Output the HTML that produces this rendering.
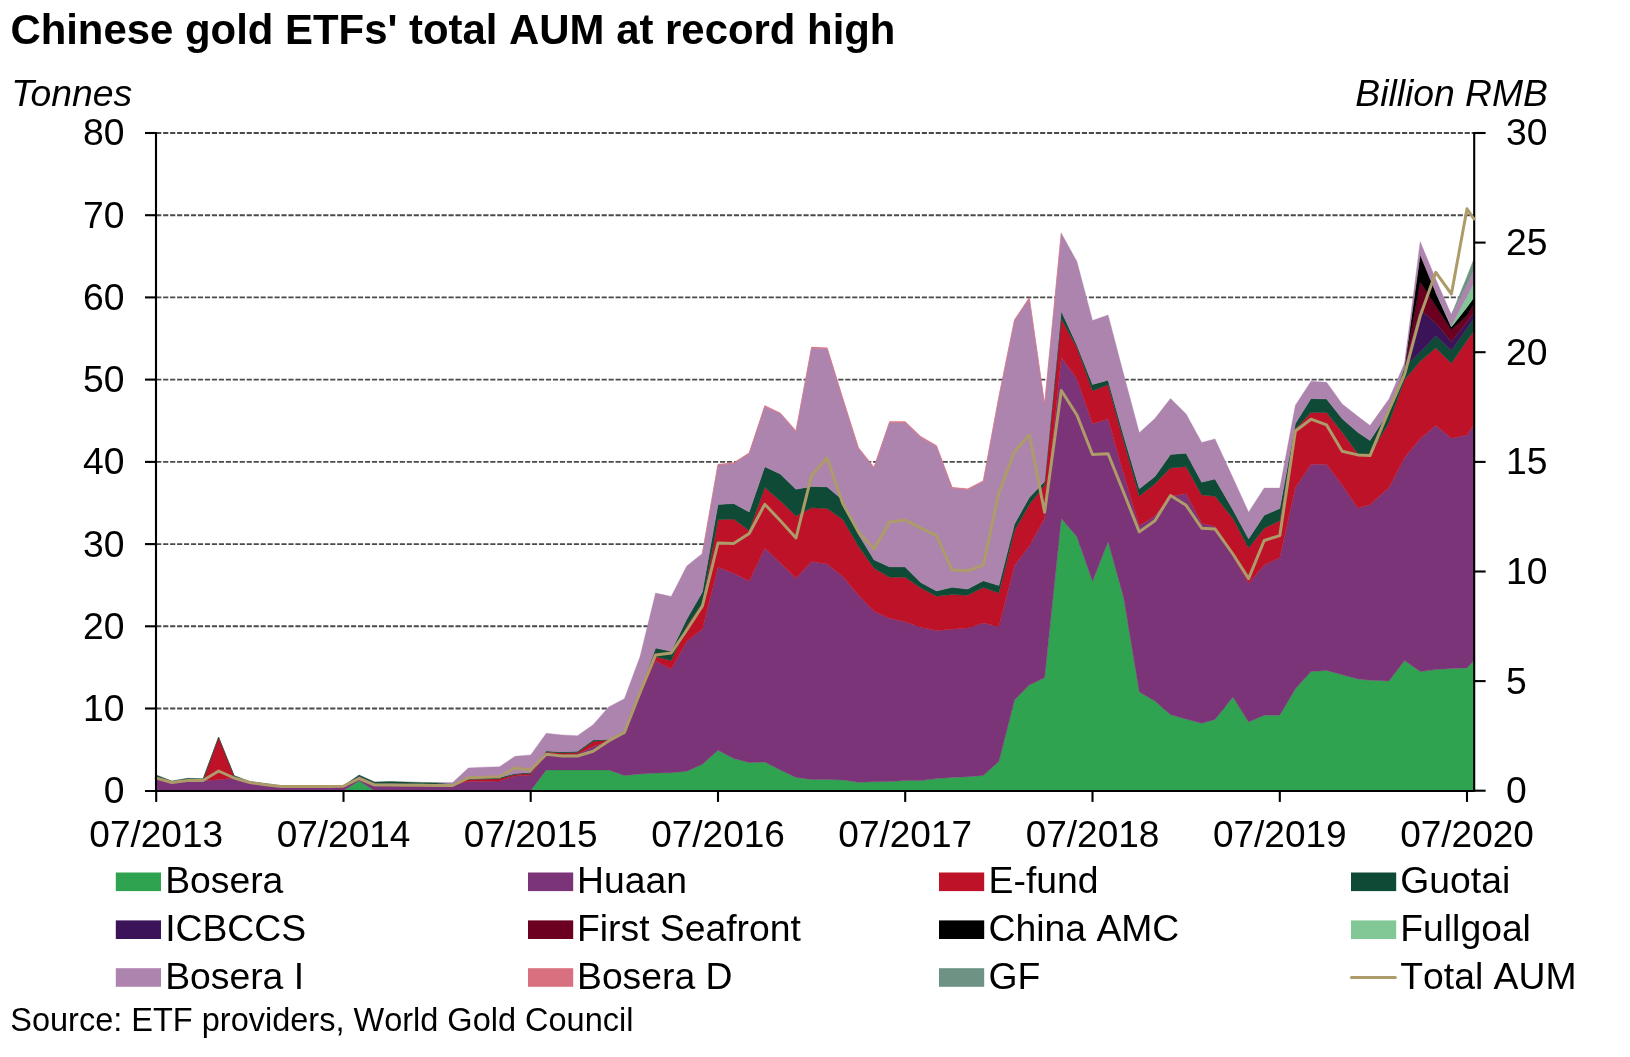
<!DOCTYPE html>
<html lang="en">
<head>
<meta charset="utf-8">
<title>Chinese gold ETFs' total AUM at record high</title>
<style>
html,body{margin:0;padding:0;background:#fff;}
body{width:1630px;height:1057px;overflow:hidden;font-family:"Liberation Sans",sans-serif;}
svg{display:block;font-kerning:none;will-change:transform;}
</style>
</head>
<body>
<svg width="1630" height="1057" viewBox="0 0 1630 1057" font-family="'Liberation Sans', sans-serif" fill="#000">
<rect width="1630" height="1057" fill="#fff"/>
<line x1="156.2" x2="1474.2" y1="708.5" y2="708.5" stroke="#4a4a4a" stroke-width="1.9" stroke-dasharray="5.15 1.81"/>
<line x1="156.2" x2="1474.2" y1="626.3" y2="626.3" stroke="#4a4a4a" stroke-width="1.9" stroke-dasharray="5.15 1.81"/>
<line x1="156.2" x2="1474.2" y1="544.1" y2="544.1" stroke="#4a4a4a" stroke-width="1.9" stroke-dasharray="5.15 1.81"/>
<line x1="156.2" x2="1474.2" y1="461.9" y2="461.9" stroke="#4a4a4a" stroke-width="1.9" stroke-dasharray="5.15 1.81"/>
<line x1="156.2" x2="1474.2" y1="379.6" y2="379.6" stroke="#4a4a4a" stroke-width="1.9" stroke-dasharray="5.15 1.81"/>
<line x1="156.2" x2="1474.2" y1="297.4" y2="297.4" stroke="#4a4a4a" stroke-width="1.9" stroke-dasharray="5.15 1.81"/>
<line x1="156.2" x2="1474.2" y1="215.2" y2="215.2" stroke="#4a4a4a" stroke-width="1.9" stroke-dasharray="5.15 1.81"/>
<line x1="156.2" x2="1474.2" y1="133" y2="133" stroke="#4a4a4a" stroke-width="1.9" stroke-dasharray="5.15 1.81"/>
<polygon points="156.2,790.7 171.8,790.7 187.4,790.7 203,790.7 218.6,790.7 234.2,790.7 249.8,790.7 265.4,790.7 281,790.7 296.6,790.7 312.2,790.7 327.9,790.7 343.5,790.7 359.1,780.8 374.7,790.7 390.3,790.7 405.9,790.7 421.5,790.7 437.1,790.7 452.7,790.7 468.3,790.7 483.9,790.7 499.5,790.7 515.1,790.7 530.7,790.7 546.3,769.9 561.9,769.9 577.5,769.9 593.1,769.9 608.7,769.9 624.4,775.5 640,774 655.6,773.1 671.2,772.7 686.8,771.2 702.4,764.2 718,750.3 733.6,758.4 749.2,762.6 764.8,762.1 780.4,770 796,777.4 811.6,779.4 827.2,779.4 842.8,779.9 858.4,782.3 874,781.8 889.6,781.6 905.2,780.6 920.8,780.6 936.5,778.6 952.1,777.4 967.7,776.7 983.3,775.4 998.9,761.4 1014.5,699.9 1029.3,685.1 1044.6,677.8 1061.3,518.4 1076.9,536.8 1092.5,581.3 1108.1,541.4 1123.7,597.8 1139.3,692 1154.9,701.1 1170.5,714.7 1186.1,719.1 1201.7,723.3 1215,719.6 1232.9,697 1248.6,722 1264.2,715.2 1279.8,715.2 1295.4,688.8 1311,671.6 1326.6,670.4 1342.2,674.8 1357.8,679 1370,680.2 1389,681 1404.6,660.5 1420.2,671.6 1435.8,669.6 1451.4,668.4 1467,667.9 1474,660.5 1474,791.2 1467,791.2 1451.4,791.2 1435.8,791.2 1420.2,791.2 1404.6,791.2 1389,791.2 1370,791.2 1357.8,791.2 1342.2,791.2 1326.6,791.2 1311,791.2 1295.4,791.2 1279.8,791.2 1264.2,791.2 1248.6,791.2 1232.9,791.2 1215,791.2 1201.7,791.2 1186.1,791.2 1170.5,791.2 1154.9,791.2 1139.3,791.2 1123.7,791.2 1108.1,791.2 1092.5,791.2 1076.9,791.2 1061.3,791.2 1044.6,791.2 1029.3,791.2 1014.5,791.2 998.9,791.2 983.3,791.2 967.7,791.2 952.1,791.2 936.5,791.2 920.8,791.2 905.2,791.2 889.6,791.2 874,791.2 858.4,791.2 842.8,791.2 827.2,791.2 811.6,791.2 796,791.2 780.4,791.2 764.8,791.2 749.2,791.2 733.6,791.2 718,791.2 702.4,791.2 686.8,791.2 671.2,791.2 655.6,791.2 640,791.2 624.4,791.2 608.7,791.2 593.1,791.2 577.5,791.2 561.9,791.2 546.3,791.2 530.7,791.2 515.1,791.2 499.5,791.2 483.9,791.2 468.3,791.2 452.7,791.2 437.1,791.2 421.5,791.2 405.9,791.2 390.3,791.2 374.7,791.2 359.1,791.2 343.5,791.2 327.9,791.2 312.2,791.2 296.6,791.2 281,791.2 265.4,791.2 249.8,791.2 234.2,791.2 218.6,791.2 203,791.2 187.4,791.2 171.8,791.2 156.2,791.2" fill="#2fa350" stroke="#2fa350" stroke-width="0.4" stroke-linejoin="round"/>
<polygon points="156.2,777 171.8,782.5 187.4,780 203,780.5 218.6,779.8 234.2,778 249.8,783 265.4,784.5 281,786.2 296.6,786.2 312.2,786.2 327.9,786.2 343.5,786.2 359.1,776 374.7,783.5 390.3,783.5 405.9,783.5 421.5,783.8 437.1,784.2 452.7,785 468.3,781.4 483.9,781.2 499.5,780.9 515.1,775.9 530.7,775 546.3,753.6 561.9,754.7 577.5,754 593.1,746.6 608.7,740.9 624.4,732.4 640,694.6 655.6,660.9 671.2,669 686.8,641.5 702.4,629 718,567.3 733.6,573.3 749.2,581.1 764.8,548.2 780.4,563 796,578.3 811.6,561.5 827.2,563.9 842.8,576.5 858.4,595 874,611.3 889.6,618.2 905.2,621.7 920.8,627.3 936.5,630.5 952.1,629.3 967.7,628.1 983.3,622.9 998.9,626.6 1014.5,565.4 1029.3,545.8 1044.6,518.4 1061.3,357.3 1076.9,378.8 1092.5,423.7 1108.1,419 1123.7,474.1 1139.3,525.7 1154.9,515.9 1170.5,496.2 1186.1,493.8 1201.7,523.3 1215,526.5 1232.9,556 1248.6,583.3 1264.2,565.1 1279.8,557.5 1295.4,487.6 1311,464.2 1326.6,464.2 1342.2,485.1 1357.8,508 1370,504.8 1389,487.6 1404.6,457.5 1420.2,438.8 1435.8,425.4 1451.4,438.2 1467,435 1474,424.6 1474,660.5 1467,667.9 1451.4,668.4 1435.8,669.6 1420.2,671.6 1404.6,660.5 1389,681 1370,680.2 1357.8,679 1342.2,674.8 1326.6,670.4 1311,671.6 1295.4,688.8 1279.8,715.2 1264.2,715.2 1248.6,722 1232.9,697 1215,719.6 1201.7,723.3 1186.1,719.1 1170.5,714.7 1154.9,701.1 1139.3,692 1123.7,597.8 1108.1,541.4 1092.5,581.3 1076.9,536.8 1061.3,518.4 1044.6,677.8 1029.3,685.1 1014.5,699.9 998.9,761.4 983.3,775.4 967.7,776.7 952.1,777.4 936.5,778.6 920.8,780.6 905.2,780.6 889.6,781.6 874,781.8 858.4,782.3 842.8,779.9 827.2,779.4 811.6,779.4 796,777.4 780.4,770 764.8,762.1 749.2,762.6 733.6,758.4 718,750.3 702.4,764.2 686.8,771.2 671.2,772.7 655.6,773.1 640,774 624.4,775.5 608.7,769.9 593.1,769.9 577.5,769.9 561.9,769.9 546.3,769.9 530.7,790.7 515.1,790.7 499.5,790.7 483.9,790.7 468.3,790.7 452.7,790.7 437.1,790.7 421.5,790.7 405.9,790.7 390.3,790.7 374.7,790.7 359.1,780.8 343.5,790.7 327.9,790.7 312.2,790.7 296.6,790.7 281,790.7 265.4,790.7 249.8,790.7 234.2,790.7 218.6,790.7 203,790.7 187.4,790.7 171.8,790.7 156.2,790.7" fill="#7b3477" stroke="#7b3477" stroke-width="0.4" stroke-linejoin="round"/>
<polygon points="203,780.5 218.6,737.5 234.2,776.5 249.8,783 249.8,783 234.2,778 218.6,779.8 203,780.5" fill="#bd1228" stroke="#bd1228" stroke-width="0.4" stroke-linejoin="round"/>
<polygon points="452.7,785 468.3,779.4 483.9,779.2 499.5,778.8 515.1,774.5 530.7,773.5 546.3,751.9 561.9,752.9 577.5,752.5 593.1,741.5 608.7,740 624.4,731.5 640,692.5 655.6,656.7 671.2,660.5 686.8,626 702.4,603 718,519.8 733.6,519.1 749.2,530.6 764.8,487.6 780.4,501.1 796,515.9 811.6,507.8 827.2,508.5 842.8,519.6 858.4,546.2 874,568.3 889.6,577.3 905.2,577.3 920.8,588 936.5,596.2 952.1,594.6 967.7,595.2 983.3,587.6 998.9,593.1 1014.5,530.7 1029.3,504.8 1044.6,485.1 1061.3,318.8 1076.9,347.6 1092.5,390.8 1108.1,384.8 1123.7,441.5 1139.3,496.2 1154.9,483.9 1170.5,467.9 1186.1,466.7 1201.7,495 1215,496.2 1232.9,518.4 1248.6,547.9 1264.2,528.2 1279.8,520.8 1295.4,429.1 1311,412.6 1326.6,412.6 1342.2,432.3 1357.8,453.7 1370,454.4 1389,422.4 1404.6,379.7 1420.2,361.3 1435.8,347.9 1451.4,363.3 1467,340.5 1474,331 1474,424.6 1467,435 1451.4,438.2 1435.8,425.4 1420.2,438.8 1404.6,457.5 1389,487.6 1370,504.8 1357.8,508 1342.2,485.1 1326.6,464.2 1311,464.2 1295.4,487.6 1279.8,557.5 1264.2,565.1 1248.6,583.3 1232.9,556 1215,526.5 1201.7,523.3 1186.1,493.8 1170.5,496.2 1154.9,515.9 1139.3,525.7 1123.7,474.1 1108.1,419 1092.5,423.7 1076.9,378.8 1061.3,357.3 1044.6,518.4 1029.3,545.8 1014.5,565.4 998.9,626.6 983.3,622.9 967.7,628.1 952.1,629.3 936.5,630.5 920.8,627.3 905.2,621.7 889.6,618.2 874,611.3 858.4,595 842.8,576.5 827.2,563.9 811.6,561.5 796,578.3 780.4,563 764.8,548.2 749.2,581.1 733.6,573.3 718,567.3 702.4,629 686.8,641.5 671.2,669 655.6,660.9 640,694.6 624.4,732.4 608.7,740.9 593.1,746.6 577.5,754 561.9,754.7 546.3,753.6 530.7,775 515.1,775.9 499.5,780.9 483.9,781.2 468.3,781.4 452.7,785" fill="#bd1228" stroke="#bd1228" stroke-width="0.4" stroke-linejoin="round"/>
<polygon points="156.2,775 171.8,781 187.4,778.3 203,778.7 218.6,737 234.2,775.6 249.8,781.5 265.4,783.5 281,785.7 296.6,785.7 312.2,785.7 327.9,785.7 343.5,785.7 359.1,775 374.7,782 390.3,781.5 405.9,782 421.5,782.4 437.1,782.8 452.7,783.8 468.3,778.2 483.9,778 499.5,777.4 515.1,773.6 530.7,772.5 546.3,750.9 561.9,751.9 577.5,751.3 593.1,740 608.7,739.4 624.4,730.5 640,690.8 655.6,648.1 671.2,651.3 686.8,619 702.4,592 718,504.6 733.6,503.5 749.2,512 764.8,466.7 780.4,474.1 796,489.3 811.6,486.4 827.2,486.9 842.8,499.9 858.4,534.3 874,559.8 889.6,566.9 905.2,566.9 920.8,582.6 936.5,590.9 952.1,587.3 967.7,589.1 983.3,580.8 998.9,585.5 1014.5,524 1029.3,497.4 1044.6,481.5 1061.3,311.2 1076.9,345.1 1092.5,384.4 1108.1,380.2 1123.7,436 1139.3,488.8 1154.9,476.5 1170.5,454.4 1186.1,453.2 1201.7,482.2 1215,479 1232.9,509.7 1248.6,538.8 1264.2,515.2 1279.8,508.5 1295.4,423.6 1311,398.5 1326.6,399 1342.2,418.7 1357.8,432.3 1370,440.4 1389,411.3 1404.6,367 1420.2,352 1435.8,335.8 1451.4,350.5 1467,328.5 1474,318.5 1474,331 1467,340.5 1451.4,363.3 1435.8,347.9 1420.2,361.3 1404.6,379.7 1389,422.4 1370,454.4 1357.8,453.7 1342.2,432.3 1326.6,412.6 1311,412.6 1295.4,429.1 1279.8,520.8 1264.2,528.2 1248.6,547.9 1232.9,518.4 1215,496.2 1201.7,495 1186.1,466.7 1170.5,467.9 1154.9,483.9 1139.3,496.2 1123.7,441.5 1108.1,384.8 1092.5,390.8 1076.9,347.6 1061.3,318.8 1044.6,485.1 1029.3,504.8 1014.5,530.7 998.9,593.1 983.3,587.6 967.7,595.2 952.1,594.6 936.5,596.2 920.8,588 905.2,577.3 889.6,577.3 874,568.3 858.4,546.2 842.8,519.6 827.2,508.5 811.6,507.8 796,515.9 780.4,501.1 764.8,487.6 749.2,530.6 733.6,519.1 718,519.8 702.4,603 686.8,626 671.2,660.5 655.6,656.7 640,692.5 624.4,731.5 608.7,740 593.1,741.5 577.5,752.5 561.9,752.9 546.3,751.9 530.7,773.5 515.1,774.5 499.5,778.8 483.9,779.2 468.3,779.4 452.7,785 437.1,784.2 421.5,783.8 405.9,783.5 390.3,783.5 374.7,783.5 359.1,776 343.5,786.2 327.9,786.2 312.2,786.2 296.6,786.2 281,786.2 265.4,784.5 249.8,783 234.2,776.5 218.6,737.5 203,780.5 187.4,780 171.8,782.5 156.2,777" fill="#0f4a36" stroke="#0f4a36" stroke-width="0.4" stroke-linejoin="round"/>
<polygon points="1404.6,367 1420.2,309.5 1435.8,323 1451.4,341.4 1467,321.9 1474,312 1474,318.5 1467,328.5 1451.4,350.5 1435.8,335.8 1420.2,352 1404.6,367" fill="#3b1358" stroke="#3b1358" stroke-width="0.4" stroke-linejoin="round"/>
<polygon points="1404.6,367 1420.2,281.7 1435.8,306 1451.4,329.8 1467,315.5 1474,303.4 1474,312 1467,321.9 1451.4,341.4 1435.8,323 1420.2,309.5 1404.6,367" fill="#6b0020" stroke="#6b0020" stroke-width="0.4" stroke-linejoin="round"/>
<polygon points="1404.6,367 1420.2,254.8 1435.8,292.4 1451.4,327 1467,307.2 1474,297.5 1474,303.4 1467,315.5 1451.4,329.8 1435.8,306 1420.2,281.7 1404.6,367" fill="#000000" stroke="#000000" stroke-width="0.4" stroke-linejoin="round"/>
<polygon points="1435.8,292.4 1451.4,326 1467,296 1474,283 1474,297.5 1467,307.2 1451.4,327 1435.8,292.4" fill="#82c896" stroke="#82c896" stroke-width="0.4" stroke-linejoin="round"/>
<polygon points="437.1,782.8 452.7,782.5 468.3,768 483.9,767.2 499.5,766.8 515.1,756.2 530.7,755.1 546.3,733.3 561.9,734.9 577.5,735.8 593.1,724.8 608.7,706.9 624.4,698.7 640,656.7 655.6,593 671.2,596.5 686.8,565.9 702.4,553.4 718,465 733.6,463.5 749.2,453.6 764.8,406.4 780.4,413.8 796,431.5 811.6,347.9 827.2,348.6 842.8,399 858.4,448.2 874,467.9 889.6,422.4 905.2,422.4 920.8,437.2 936.5,446.3 952.1,488.1 967.7,489.6 983.3,481.5 998.9,397.3 1014.5,320.5 1029.3,298.4 1044.6,405 1061.3,233.2 1076.9,261.5 1092.5,320.5 1108.1,315.1 1123.7,374.5 1139.3,432.8 1154.9,418.5 1170.5,398.6 1186.1,413.9 1201.7,442.5 1215,438.9 1232.9,477.8 1248.6,512.2 1264.2,488.1 1279.8,488.1 1295.4,405.2 1311,381.3 1326.6,382.3 1342.2,404 1357.8,416.3 1370,425.6 1389,399 1404.6,363 1420.2,241.7 1435.8,279.2 1451.4,314.7 1467,284.5 1474,269.5 1474,283 1467,296 1451.4,326 1435.8,292.4 1420.2,254.8 1404.6,367 1389,411.3 1370,440.4 1357.8,432.3 1342.2,418.7 1326.6,399 1311,398.5 1295.4,423.6 1279.8,508.5 1264.2,515.2 1248.6,538.8 1232.9,509.7 1215,479 1201.7,482.2 1186.1,453.2 1170.5,454.4 1154.9,476.5 1139.3,488.8 1123.7,436 1108.1,380.2 1092.5,384.4 1076.9,345.1 1061.3,311.2 1044.6,481.5 1029.3,497.4 1014.5,524 998.9,585.5 983.3,580.8 967.7,589.1 952.1,587.3 936.5,590.9 920.8,582.6 905.2,566.9 889.6,566.9 874,559.8 858.4,534.3 842.8,499.9 827.2,486.9 811.6,486.4 796,489.3 780.4,474.1 764.8,466.7 749.2,512 733.6,503.5 718,504.6 702.4,592 686.8,619 671.2,651.3 655.6,648.1 640,690.8 624.4,730.5 608.7,739.4 593.1,740 577.5,751.3 561.9,751.9 546.3,750.9 530.7,772.5 515.1,773.6 499.5,777.4 483.9,778 468.3,778.2 452.7,783.8 437.1,782.8" fill="#ad84ae" stroke="#ad84ae" stroke-width="0.4" stroke-linejoin="round"/>
<polygon points="702.4,553.4 718,464.2 733.6,462.7 749.2,452.8 764.8,405.6 780.4,413 796,430.7 811.6,347.1 827.2,347.8 842.8,398.2 858.4,447.4 874,467.1 889.6,421.6 905.2,421.6 920.8,436.4 936.5,445.5 952.1,487.3 967.7,488.8 983.3,480.7 998.9,396.5 1014.5,319.7 1029.3,297.6 1044.6,404.2 1061.3,233.2 1061.3,233.2 1044.6,405 1029.3,298.4 1014.5,320.5 998.9,397.3 983.3,481.5 967.7,489.6 952.1,488.1 936.5,446.3 920.8,437.2 905.2,422.4 889.6,422.4 874,467.9 858.4,448.2 842.8,399 827.2,348.6 811.6,347.9 796,431.5 780.4,413.8 764.8,406.4 749.2,453.6 733.6,463.5 718,465 702.4,553.4" fill="#d9707f" stroke="#d9707f" stroke-width="0.4" stroke-linejoin="round"/>
<polygon points="1451.4,314.7 1467,276.5 1474,258.7 1474,269.5 1467,284.5 1451.4,314.7" fill="#6e9283" stroke="#6e9283" stroke-width="0.4" stroke-linejoin="round"/>
<g stroke="#000" stroke-width="2.1" fill="none">
<line x1="1474.2" x2="1474.2" y1="131.9" y2="791.8"/>
<line x1="1474.2" x2="1485.6" y1="790.7" y2="790.7"/>
<line x1="1474.2" x2="1485.6" y1="681.1" y2="681.1"/>
<line x1="1474.2" x2="1485.6" y1="571.5" y2="571.5"/>
<line x1="1474.2" x2="1485.6" y1="461.9" y2="461.9"/>
<line x1="1474.2" x2="1485.6" y1="352.2" y2="352.2"/>
<line x1="1474.2" x2="1485.6" y1="242.6" y2="242.6"/>
<line x1="1474.2" x2="1485.6" y1="133" y2="133"/>
</g>
<polyline points="156.2,778 171.8,782.5 187.4,780.5 203,780.5 218.6,771 234.2,778 249.8,782.5 265.4,784.7 281,786.4 296.6,786.4 312.2,786.4 327.9,786.4 343.5,786.2 359.1,778.5 374.7,785 390.3,785.1 405.9,785.2 421.5,785.3 437.1,785.4 452.7,785.5 468.3,777.8 483.9,777.2 499.5,776.8 515.1,768 530.7,769.9 546.3,754.2 561.9,756 577.5,756 593.1,751.3 608.7,740.9 624.4,732.4 640,692.7 655.6,654.9 671.2,653 686.8,630 702.4,606 718,543 733.6,543.5 749.2,533.5 764.8,504.3 780.4,520.8 796,538 811.6,475.3 827.2,458.1 842.8,503.6 858.4,531.9 874,549.1 889.6,522 905.2,520.1 920.8,528.2 936.5,535.6 952.1,570 967.7,570.8 983.3,565.1 998.9,492.5 1014.5,451.9 1029.3,434.8 1044.6,512.2 1061.3,390.5 1076.9,415 1092.5,454.5 1108.1,453.7 1123.7,492.5 1139.3,531.9 1154.9,520.8 1170.5,495.5 1186.1,505.3 1201.7,528.2 1215,528.9 1232.9,554 1248.6,578.6 1264.2,540.5 1279.8,535.6 1295.4,431 1311,419.2 1326.6,424.9 1342.2,451.2 1357.8,454.9 1370,455.6 1389,410.1 1404.6,374.4 1420.2,316 1435.8,272.3 1451.4,294 1467,208.8 1474,219" fill="none" stroke="#ad9b6a" stroke-width="3.0" stroke-linejoin="round" stroke-linecap="round"/>
<g stroke="#000" stroke-width="2.1" fill="none">
<line x1="156.0" x2="156.0" y1="131.9" y2="791.8"/>
<line x1="145" x2="1474.2" y1="791" y2="791"/>
<line x1="145" x2="156.0" y1="708.5" y2="708.5"/>
<line x1="145" x2="156.0" y1="626.3" y2="626.3"/>
<line x1="145" x2="156.0" y1="544.1" y2="544.1"/>
<line x1="145" x2="156.0" y1="461.9" y2="461.9"/>
<line x1="145" x2="156.0" y1="379.6" y2="379.6"/>
<line x1="145" x2="156.0" y1="297.4" y2="297.4"/>
<line x1="145" x2="156.0" y1="215.2" y2="215.2"/>
<line x1="145" x2="156.0" y1="133" y2="133"/>
<line x1="156.2" x2="156.2" y1="790.7" y2="801.9"/>
<line x1="343.5" x2="343.5" y1="790.7" y2="801.9"/>
<line x1="530.7" x2="530.7" y1="790.7" y2="801.9"/>
<line x1="718" x2="718" y1="790.7" y2="801.9"/>
<line x1="905.2" x2="905.2" y1="790.7" y2="801.9"/>
<line x1="1092.5" x2="1092.5" y1="790.7" y2="801.9"/>
<line x1="1279.8" x2="1279.8" y1="790.7" y2="801.9"/>
<line x1="1467" x2="1467" y1="790.7" y2="801.9"/>
</g>
<text x="10.4" y="43.8" font-size="41.9" font-weight="bold">Chinese gold ETFs' total AUM at record high</text>
<text x="11.2" y="105.7" font-size="37.3" font-style="italic" style="font-kerning:normal">Tonnes</text>
<text x="1548" y="105.7" font-size="37.3" font-style="italic" text-anchor="end">Billion RMB</text>
<g font-size="37.3" text-anchor="end">
<text x="124.6" y="803.1">0</text>
<text x="124.6" y="720.9">10</text>
<text x="124.6" y="638.7">20</text>
<text x="124.6" y="556.5">30</text>
<text x="124.6" y="474.2">40</text>
<text x="124.6" y="392">50</text>
<text x="124.6" y="309.8">60</text>
<text x="124.6" y="227.6">70</text>
<text x="124.6" y="145.4">80</text>
</g>
<g font-size="37.3">
<text x="1506" y="803.1">0</text>
<text x="1506" y="693.5">5</text>
<text x="1506" y="583.9">10</text>
<text x="1506" y="474.2">15</text>
<text x="1506" y="364.6">20</text>
<text x="1506" y="255">25</text>
<text x="1506" y="145.4">30</text>
</g>
<g font-size="37" text-anchor="middle">
<text x="156.2" y="847.3">07/2013</text>
<text x="343.5" y="847.3">07/2014</text>
<text x="530.7" y="847.3">07/2015</text>
<text x="718" y="847.3">07/2016</text>
<text x="905.2" y="847.3">07/2017</text>
<text x="1092.5" y="847.3">07/2018</text>
<text x="1279.8" y="847.3">07/2019</text>
<text x="1467" y="847.3">07/2020</text>
</g>
<g font-size="37.3">
<rect x="115.8" y="872.5" width="45.2" height="18.6" fill="#2fa350"/>
<text x="165.2" y="893.2">Bosera</text>
<rect x="528" y="872.5" width="45.2" height="18.6" fill="#7b3477"/>
<text x="577.0" y="893.2">Huaan</text>
<rect x="939" y="872.5" width="45.2" height="18.6" fill="#bd1228"/>
<text x="988.6" y="893.2">E-fund</text>
<rect x="1351" y="872.5" width="45.2" height="18.6" fill="#0f4a36"/>
<text x="1400.3" y="893.2">Guotai</text>
<rect x="115.8" y="920.4" width="45.2" height="18.6" fill="#3b1358"/>
<text x="165.2" y="941.1">ICBCCS</text>
<rect x="528" y="920.4" width="45.2" height="18.6" fill="#6b0020"/>
<text x="577.0" y="941.1">First Seafront</text>
<rect x="939" y="920.4" width="45.2" height="18.6" fill="#000000"/>
<text x="988.6" y="941.1">China AMC</text>
<rect x="1351" y="920.4" width="45.2" height="18.6" fill="#82c896"/>
<text x="1400.3" y="941.1">Fullgoal</text>
<rect x="115.8" y="968.2" width="45.2" height="18.6" fill="#ad84ae"/>
<text x="165.2" y="988.9">Bosera I</text>
<rect x="528" y="968.2" width="45.2" height="18.6" fill="#d9707f"/>
<text x="577.0" y="988.9">Bosera D</text>
<rect x="939" y="968.2" width="45.2" height="18.6" fill="#6e9283"/>
<text x="988.6" y="988.9">GF</text>
<line x1="1351.5" x2="1395.3" y1="977.4" y2="977.4" stroke="#ad9b6a" stroke-width="3" stroke-linecap="round"/>
<text x="1400.3" y="988.9">Total AUM</text>
</g>
<text x="10.3" y="1031.1" font-size="32.5">Source: ETF providers, World Gold Council</text>
</svg>
</body>
</html>
